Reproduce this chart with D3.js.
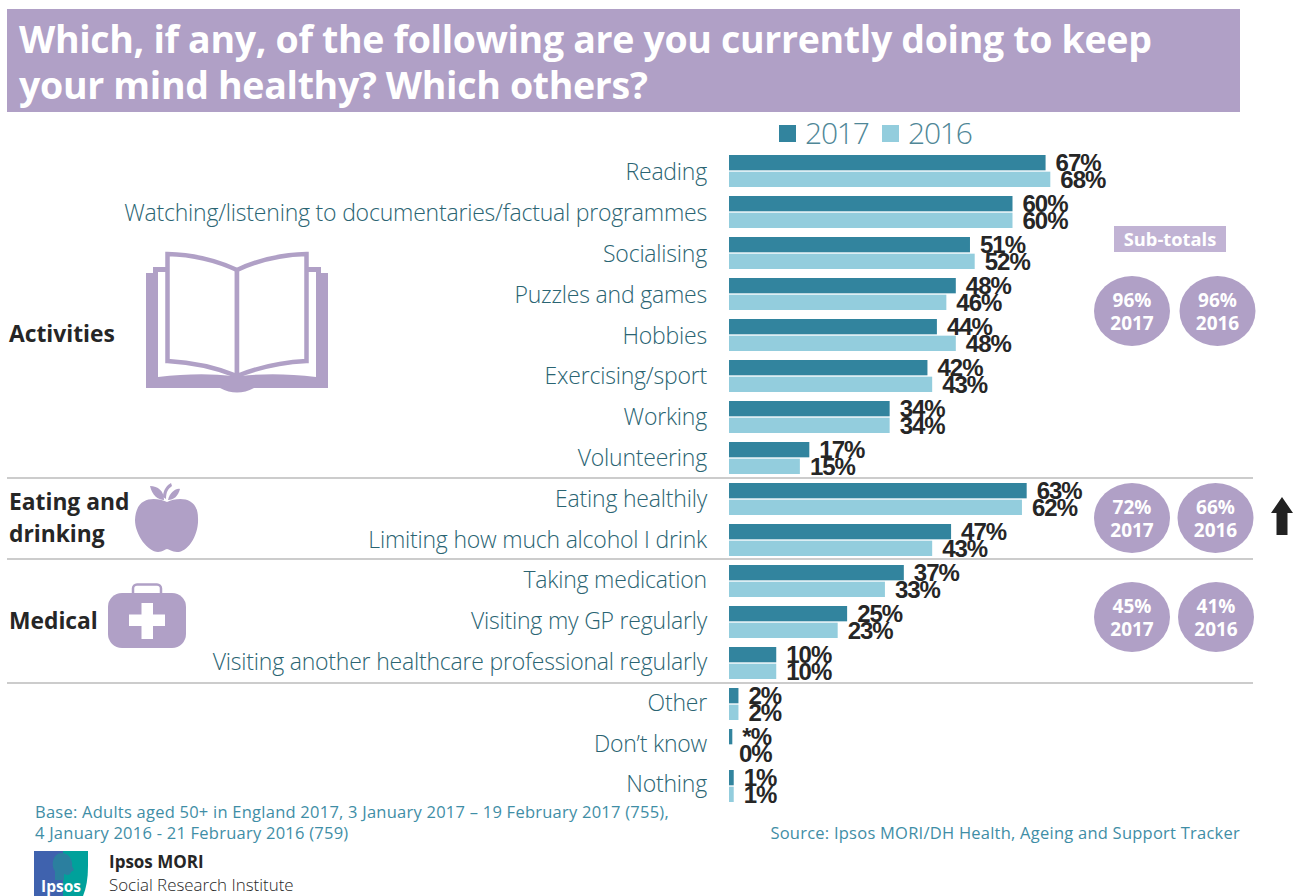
<!DOCTYPE html>
<html><head><meta charset="utf-8">
<script src="https://cdn.jsdelivr.net/npm/d3@7/dist/d3.min.js"></script>
<style>html,body{margin:0;background:#fff}svg{display:block}</style></head>
<body><div id="c"></div>
<script>
const categories=["Reading","Watching/listening to documentaries/factual programmes","Socialising","Puzzles and games","Hobbies","Exercising/sport","Working","Volunteering","Eating healthily","Limiting how much alcohol I drink","Taking medication","Visiting my GP regularly","Visiting another healthcare professional regularly","Other","Don’t know","Nothing"];
const values2017=[67,60,51,48,44,42,34,17,63,47,37,25,10,2,0.7,1];
const values2016=[68,60,52,46,48,43,34,15,62,43,33,23,10,2,0,1];
const labels2017=["67%","60%","51%","48%","44%","42%","34%","17%","63%","47%","37%","25%","10%","2%","*%","1%"];
const labels2016=["68%","60%","52%","46%","48%","43%","34%","15%","62%","43%","33%","23%","10%","2%","0%","1%"];
const seriesNames=["2017","2016"];
const seriesColors=["#32849e","#93cddd"];
const subtotalGroups=[["96%","96%"],["72%","66%"],["45%","41%"]];
const titleLines=["Which, if any, of the following are you currently doing to keep","your mind healthy? Which others?"];

const PURPLE="#b0a0c6",DARK="#262626",TEAL="#2a6472",FOOT="#3f8ea6";
const sans="'Open Sans','Noto Sans',sans-serif";
const svg=d3.select("#c").append("svg").attr("width",1298).attr("height",896).attr("font-family",sans);

svg.append("rect").attr("x",7).attr("y",9).attr("width",1233).attr("height",103).attr("fill",PURPLE);
svg.selectAll(".title").data(titleLines).join("text").attr("class","title")
  .attr("x",19).attr("y",(d,i)=>53+i*46).attr("fill","#fff").attr("font-weight",700).attr("font-size",37.5).attr("letter-spacing",-0.33).text(d=>d);

const x=d3.scaleLinear().domain([0,100]).range([729,1201.5]);
const y=d3.scaleBand().domain(categories).range([155,802]).paddingInner(9/41);
const y2=d3.scaleBand().domain(seriesNames).range([0,y.bandwidth()]).paddingInner(0.08);

[478,559,683].forEach(v=>svg.append("line").attr("x1",7).attr("x2",1253).attr("y1",v).attr("y2",v).attr("stroke","#cccccc").attr("stroke-width",2));

const ax=svg.append("g").attr("transform","translate(707,2)").call(d3.axisLeft(y).tickSize(0).tickPadding(0));
ax.select(".domain").remove();
ax.selectAll("text").attr("font-family",sans).attr("font-weight",300).attr("font-size",23).attr("letter-spacing",-0.2).attr("fill",TEAL)
  .attr("y",(d,i)=>-0.2*i);

const series=[values2017,values2016],labs=[labels2017,labels2016];
seriesNames.forEach((s,k)=>{
  svg.append("g").selectAll("rect").data(categories).join("rect")
    .attr("x",x(0)).attr("y",d=>y(d)+y2(s)).attr("height",y2.bandwidth())
    .attr("width",(d,i)=>x(series[k][i])-x(0)).attr("fill",seriesColors[k]);
  svg.append("g").selectAll("text").data(categories).join("text")
    .attr("x",(d,i)=>x(series[k][i])+10).attr("y",d=>y(d)+y2(s)+16)
    .attr("font-family","'Liberation Sans',Arial,sans-serif").attr("font-weight",700).attr("font-size",24).attr("letter-spacing",-1)
    .attr("fill",DARK).text((d,i)=>labs[k][i]);
});

// legend
[[779,805],[882,908]].forEach((p,i)=>{
  svg.append("rect").attr("x",p[0]).attr("y",125).attr("width",17).attr("height",17).attr("fill",seriesColors[i]);
  svg.append("text").attr("x",p[1]).attr("y",144).attr("font-weight",300).attr("font-size",30).attr("letter-spacing",-1.2).attr("fill","#4f8797").text(seriesNames[i]);
});

// group labels
[["Activities",342],["Eating and",510],["drinking",542],["Medical",629]].forEach(d=>
  svg.append("text").attr("x",9).attr("y",d[1]).attr("font-weight",700).attr("font-size",22.8).attr("fill",DARK).text(d[0]));

// sub-totals
svg.append("rect").attr("x",1114).attr("y",226).attr("width",112).attr("height",26).attr("fill","#c1b3d4");
svg.append("text").attr("x",1170).attr("y",246).attr("text-anchor","middle").attr("font-weight",700).attr("font-size",18.3).attr("fill","#fff").text("Sub-totals");
const subCy=[311,518,617],subCx=[[1132,1217.5],[1132,1215.5],[1132,1216]];
subtotalGroups.forEach((g,j)=>g.forEach((v,i)=>{
  const cx=subCx[j][i],cy=subCy[j];
  svg.append("ellipse").attr("cx",cx).attr("cy",cy).attr("rx",38).attr("ry",35).attr("fill",PURPLE);
  svg.append("text").attr("x",cx).attr("y",cy-4.5).attr("text-anchor","middle").attr("font-weight",700).attr("font-size",19).attr("fill","#fff").text(v);
  svg.append("text").attr("x",cx).attr("y",cy+18.5).attr("text-anchor","middle").attr("font-weight",700).attr("font-size",19).attr("fill","#fff").text(seriesNames[i]);
}));

// arrow
svg.append("path").attr("d","M1282,497 L1293,513 H1287.5 V535 H1276.5 V513 H1271 Z").attr("fill","#222");

// book icon
const book=svg.append("g");
book.append("path").attr("fill",PURPLE).attr("d","M146,388 V273 H153 V267 H321 V273 H328 V388 H254 Q237,397 220,388 Z");
book.append("path").attr("fill","#fff").attr("d","M158,272 H316 V377 Q275,372 241,376 H233 Q199,372 158,377 Z");
book.append("rect").attr("x",166).attr("y",260).attr("width",142).attr("height",12).attr("fill","#fff");
book.append("path").attr("fill","#fff").attr("stroke",PURPLE).attr("stroke-width",4.5)
  .attr("d","M167.5,254 Q205,255 237,270 V376 Q205,363 167.5,361 Z");
book.append("path").attr("fill","#fff").attr("stroke",PURPLE).attr("stroke-width",4.5)
  .attr("d","M306.5,254 Q269,255 237,270 V376 Q269,363 306.5,361 Z");

// apple icon
const apple=svg.append("g").attr("fill",PURPLE);
apple.append("path").attr("d","M167,502 C155,497 136,496 135,520 C135,535 148,552 158,552 C163,552 165,549 167,549 C169,549 172,552 177,552 C188,552 199,535 198,518 C198,496 178,497 167,502 Z");
apple.append("path").attr("d","M164,500 C158,500 152,495 150,486 C158,486 164,491 164,500 Z");
apple.append("path").attr("d","M168,500 C170,492 176,488 180,489 C178,496 174,500 168,500 Z");
apple.append("path").attr("d","M163,497 C163,490 167,485 171,483 L172,486 C168,489 166,492 166,499 Z");

// medical kit icon
const kit=svg.append("g");
kit.append("rect").attr("x",133).attr("y",584.5).attr("width",28).attr("height",14).attr("rx",4).attr("fill","none").attr("stroke",PURPLE).attr("stroke-width",2.5);
kit.append("rect").attr("x",108).attr("y",593).attr("width",78).attr("height",55).attr("rx",14).attr("fill",PURPLE);
kit.append("path").attr("fill","#fff").attr("d","M141.5,603 H153 V614.5 H165 V626 H153 V639 H141.5 V626 H129 V614.5 H141.5 Z");

// footnotes
[["Base: Adults aged 50+ in England 2017, 3 January 2017 – 19 February 2017 (755),",818],["4 January 2016 - 21 February 2016 (759)",839]].forEach(d=>
  svg.append("text").attr("x",35).attr("y",d[1]).attr("font-size",16.5).attr("letter-spacing",0.24).attr("fill",FOOT).text(d[0]));
svg.append("text").attr("x",1240).attr("y",839).attr("text-anchor","end").attr("font-size",16.5).attr("letter-spacing",0.24).attr("fill",FOOT).text("Source: Ipsos MORI/DH Health, Ageing and Support Tracker");

// logo
const logo=svg.append("g");
logo.append("path").attr("fill","#3f62ae").attr("d","M34,851 H63 V896 H34 Z");
logo.append("path").attr("fill","#00a19b").attr("d","M63,851 H88 V866 Q88,884 83,896 H63 Z");
logo.append("path").attr("fill","#2b7f9f").attr("d","M62,853 C70,853 73,862 72,866 L74,870 L71,872 C70,876 66,875 64,874 V880 H55 V871 C51,867 52,853 62,853 Z");
logo.append("text").attr("x",41).attr("y",892).attr("font-weight",700).attr("font-size",15.5).attr("fill","#fff").text("Ipsos");
svg.append("text").attr("x",109).attr("y",868).attr("font-weight",700).attr("font-size",17).attr("fill",DARK).text("Ipsos MORI");
svg.append("text").attr("x",109).attr("y",891).attr("font-weight",300).attr("font-size",16.9).attr("fill",DARK).text("Social Research Institute");
</script></body></html>
